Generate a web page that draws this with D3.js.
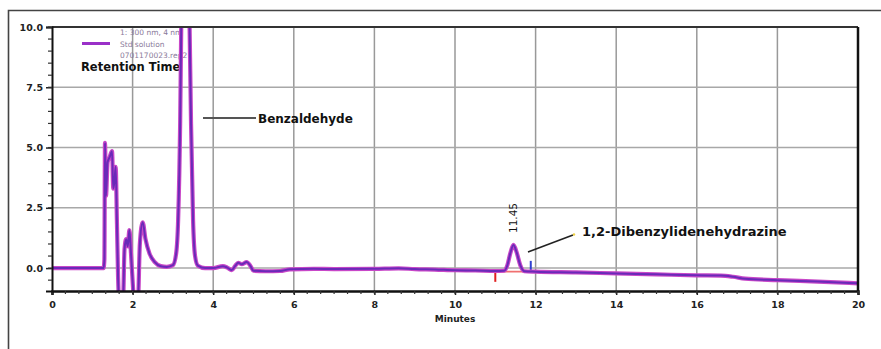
<!DOCTYPE html>
<html><head><meta charset="utf-8">
<script src="https://cdn.jsdelivr.net/npm/d3@7"></script>
<style>body{margin:0;background:#fff}svg{display:block}text{font-family:"DejaVu Sans",Verdana,sans-serif}</style>
</head><body><svg id="c" width="881" height="349"></svg>
<script>
const time   = [0,0.6,1.0,1.28,1.30,1.315,1.34,1.38,1.43,1.49,1.52,1.55,1.58,1.61,1.64,1.67,1.76,1.80,1.84,1.88,1.92,1.96,2.01,2.04,2.13,2.18,2.25,2.32,2.42,2.55,2.7,2.85,3.0,3.08,3.13,3.18,3.21,3.26,3.31,3.36,3.41,3.45,3.5,3.55,3.62,3.8,4.0,4.24,4.35,4.46,4.55,4.62,4.71,4.83,4.92,5.0,5.3,5.66,5.9,6.5,7.0,8.0,8.6,9.0,9.5,10.0,10.5,11.0,11.22,11.3,11.37,11.45,11.53,11.62,11.72,12.0,13.0,14.0,15.0,16.0,16.6,16.9,17.2,18.0,19.0,20.0];
const signal = [0,0,0,0,0.35,5.2,3.0,4.4,4.6,4.85,3.3,3.6,4.2,2.0,-0.4,-1.5,-1.5,0.8,1.2,0.9,1.58,0.6,-0.8,-1.5,-1.5,1.0,1.9,1.2,0.6,0.25,0.08,0.05,0.12,0.6,2.0,6.0,10.5,14.0,15.0,14.0,10.5,6.0,2.0,0.5,0.1,0.0,0.0,0.08,0.02,-0.08,0.1,0.22,0.16,0.25,0.1,-0.11,-0.13,-0.12,-0.05,-0.03,-0.04,-0.03,-0.01,-0.04,-0.06,-0.09,-0.1,-0.12,-0.11,0.12,0.6,0.96,0.65,0.12,-0.13,-0.15,-0.18,-0.22,-0.26,-0.3,-0.31,-0.36,-0.44,-0.5,-0.56,-0.63];
const xTicks = [0,2,4,6,8,10,12,14,16,18,20];
const yTicks = [0,2.5,5,7.5,10];
const yTickLabels = ["0.0","2.5","5.0","7.5","10.0"];
const legendLines = ["1: 300 nm, 4 nm","Std solution","0701170023.rep2"];
const peakTime = 11.45, peakLabel = "11.45";
const integStart = 11.0, integEnd = 11.88;

const svg = d3.select("#c");
const L=52,R=858,T=27,B=291;
const x = d3.scaleLinear().domain([0,20]).range([L,R]);
const y = d3.scaleLinear().domain([-0.95,10]).range([B,T]);

// outer frame
svg.append("path").attr("d","M8.5,349 L8.5,10.5 L881,10.5").attr("fill","none").attr("stroke","#444").attr("stroke-width",1.6);

// grid
const g = svg.append("g");
g.selectAll("line.vg").data(xTicks.slice(1,-1)).join("line")
 .attr("x1",d=>x(d)).attr("x2",d=>x(d)).attr("y1",T).attr("y2",B)
 .attr("stroke","#999").attr("stroke-width",1.5);
g.selectAll("line.hg").data(yTicks.slice(0,-1)).join("line")
 .attr("x1",L).attr("x2",R).attr("y1",d=>y(d)).attr("y2",d=>y(d))
 .attr("stroke","#a8a8a8").attr("stroke-width",1.5);

// legend (under the trace)
svg.append("line").attr("x1",82).attr("x2",110).attr("y1",43.5).attr("y2",43.5).attr("stroke","#9a30c8").attr("stroke-width",3);
svg.selectAll("text.lg").data(legendLines).join("text").attr("x",120).attr("y",(d,i)=>35+i*11.5)
 .attr("font-size",7.5).attr("fill","#8a7a9a").text(d=>d);
svg.append("text").attr("x",81).attr("y",71).attr("font-size",11.5).attr("font-weight","bold").attr("fill","#111").text("Retention Time");

// clip
svg.append("clipPath").attr("id","pc").append("rect").attr("x",L).attr("y",T).attr("width",R-L).attr("height",B-T);

// integration marks
svg.append("line").attr("x1",x(integStart)).attr("x2",x(integEnd)).attr("y1",y(-0.15)).attr("y2",y(-0.15)).attr("stroke","#f07070").attr("stroke-width",1.8);
svg.append("line").attr("x1",x(integStart)).attr("x2",x(integStart)).attr("y1",y(-0.08)).attr("y2",y(-0.57)).attr("stroke","#e02020").attr("stroke-width",2);
svg.append("line").attr("x1",x(integEnd)).attr("x2",x(integEnd)).attr("y1",y(0.3)).attr("y2",y(-0.15)).attr("stroke","#3040d0").attr("stroke-width",2);

const data = time.map((t,i)=>[t,signal[i]]);
const line = d3.line().x(d=>x(d[0])).y(d=>y(d[1])).curve(d3.curveMonotoneX);
const pg = svg.append("g").attr("clip-path","url(#pc)");
pg.append("path").datum(data).attr("d",line).attr("fill","none").attr("stroke","#c848c8").attr("stroke-width",4.2).attr("stroke-linejoin","round");
pg.append("path").datum(data).attr("d",line).attr("fill","none").attr("stroke","#6a2ab8").attr("stroke-width",2).attr("stroke-linejoin","round");

// axes frame
svg.append("line").attr("x1",L).attr("x2",R).attr("y1",T).attr("y2",T).attr("stroke","#333").attr("stroke-width",2);
svg.append("line").attr("x1",R).attr("x2",R).attr("y1",T).attr("y2",B).attr("stroke","#111").attr("stroke-width",2.5);

const xa = svg.append("g").attr("transform",`translate(0,${B})`)
 .call(d3.axisBottom(x).tickValues(xTicks).tickFormat(d3.format("d")).tickSize(4).tickPadding(6));
xa.select(".domain").attr("stroke","#111").attr("stroke-width",2.5);
const xm = d3.range(0,20.01,1/3);
svg.append("g").selectAll("line").data(xm).join("line").attr("x1",d=>x(d)).attr("x2",d=>x(d)).attr("y1",B).attr("y2",B+3).attr("stroke","#333").attr("stroke-width",1.2);

const ya = svg.append("g").attr("transform",`translate(${L},0)`)
 .call(d3.axisLeft(y).tickValues(yTicks).tickFormat((d,i)=>yTickLabels[i]).tickSize(6).tickPadding(3));
ya.select(".domain").attr("stroke","#111").attr("stroke-width",2);
const ym = d3.range(-0.5,10.01,0.5);
svg.append("g").selectAll("line").data(ym).join("line").attr("x1",L-4).attr("x2",L).attr("y1",d=>y(d)).attr("y2",d=>y(d)).attr("stroke","#333").attr("stroke-width",1.2);

[xa,ya].forEach(a=>{a.selectAll("text").attr("font-size",9.5).attr("font-weight","bold").attr("fill","#222").attr("font-family","DejaVu Sans");
 a.selectAll(".tick line").attr("stroke","#222").attr("stroke-width",1.5);});

svg.append("text").attr("x",x(10)).attr("y",322).attr("text-anchor","middle").attr("font-size",9).attr("font-weight","bold").attr("fill","#222").text("Minutes");

// annotations
svg.append("line").attr("x1",203).attr("x2",256).attr("y1",118).attr("y2",118).attr("stroke","#555").attr("stroke-width",2);
svg.append("text").attr("x",258).attr("y",122.5).attr("font-size",12).attr("font-weight","bold").attr("fill","#111").text("Benzaldehyde");

svg.append("text").attr("transform",`translate(${x(peakTime)+4},218) rotate(-90)`).attr("text-anchor","middle")
 .attr("font-size",10.5).attr("fill","#111").text(peakLabel);
svg.append("line").attr("x1",528).attr("y1",252).attr("x2",573).attr("y2",235).attr("stroke","#222").attr("stroke-width",1.6);
svg.append("circle").attr("cx",574).attr("cy",234.5).attr("r",1.2).attr("fill","#f0d040");
svg.append("text").attr("x",582).attr("y",235.5).attr("font-size",13).attr("font-weight","bold").attr("fill","#111").text("1,2-Dibenzylidenehydrazine");
</script></body></html>
